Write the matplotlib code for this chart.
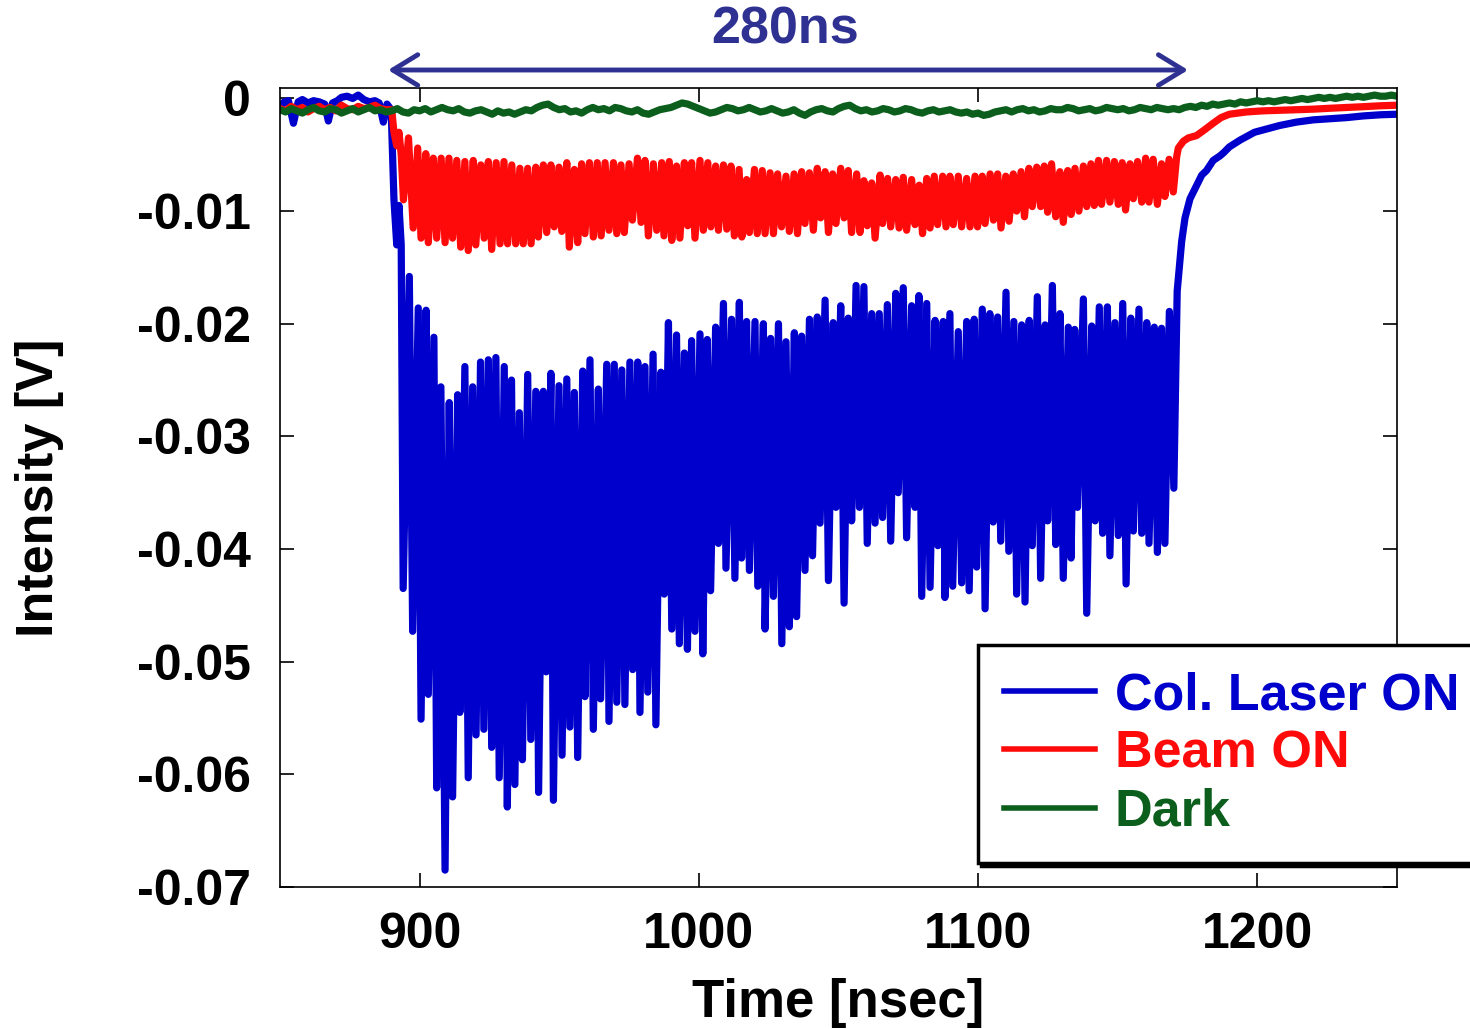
import numpy as np
import matplotlib
matplotlib.use("Agg")
from matplotlib import pyplot as plt

# time [ns] and intensity [mV]
blue_t = [850, 851.5, 853, 854.8, 856.5, 858, 860, 862, 864, 866, 867.3, 868.8, 870.5, 872, 874, 876, 878,
          880, 882, 884, 885.5, 887, 888.3, 889.8, 890.8, 891.8, 892.6, 893.4,
          894.1, 896.3, 897.5, 899.5, 900.5, 902.3, 903.1, 905.1, 906.1, 907.6, 909.1, 910.6, 911.8, 913.6,
          914.4, 916.2, 917.4, 919.0, 920.2, 921.8, 923.0, 924.6, 925.8, 927.3, 928.5, 930.3, 931.4, 932.9,
          934.1, 935.7, 936.8, 938.7, 939.8, 941.6, 942.6, 944.3, 945.3, 947.0, 947.9, 949.9, 951.0, 952.7,
          953.8, 955.4, 956.6, 958.4, 959.2, 961.0, 962.2, 964.0, 964.8, 967.0, 967.8, 969.7, 970.6, 972.4,
          973.5, 975.3, 976.3, 978.1, 978.9, 980.7, 981.7, 983.6, 984.6, 986.4, 987.6, 989.1, 990.3, 992.0,
          993.0, 994.8, 995.9, 997.4, 998.6, 1000.4, 1001.4, 1003.0, 1004.2, 1006.0, 1007.0, 1008.8, 1009.7,
          1011.7, 1012.9, 1014.5, 1015.3, 1017.1, 1018.1, 1020.1, 1021.1, 1023.1, 1023.7, 1025.7, 1026.7,
          1028.5, 1029.7, 1031.2, 1032.4, 1034.2, 1035.0, 1036.8, 1038.0, 1039.6, 1040.7, 1042.4, 1043.4,
          1045.2, 1046.4, 1048.1, 1049.1, 1050.8, 1052.0, 1053.5, 1054.7, 1056.3, 1057.5, 1059.1, 1060.3,
          1061.9, 1063.1, 1064.6, 1065.8, 1067.5, 1068.7, 1070.5, 1071.4, 1073.2, 1074.4, 1076.2, 1077.4,
          1078.8, 1079.8, 1081.6, 1082.8, 1084.6, 1085.6, 1087.5, 1088.1, 1089.9, 1090.9, 1092.9, 1094.1,
          1095.9, 1096.8, 1098.6, 1099.5, 1101.5, 1102.5, 1104.2, 1105.4, 1107.0, 1108.1, 1110.0, 1111.0,
          1112.8, 1113.8, 1115.6, 1116.8, 1118.3, 1119.4, 1121.2, 1122.4, 1124.0, 1124.9, 1126.6, 1127.8,
          1129.3, 1130.5, 1132.3, 1133.3, 1134.6, 1135.6, 1137.7, 1138.9, 1140.7, 1141.9, 1143.4, 1144.6,
          1146.3, 1147.2, 1149.0, 1150.2, 1151.8, 1153.0, 1154.7, 1155.6, 1157.6, 1158.6, 1160.4, 1161.2,
          1163.1, 1164.2, 1165.7, 1166.9, 1168.5, 1170.1, 1171.3, 1172.9, 1174.1, 1175.9, 1177.7, 1180.1,
          1181.8, 1184.2, 1186.6, 1188, 1190, 1193.8, 1196, 1199, 1202, 1205, 1208, 1214, 1220, 1226, 1232,
          1238, 1244, 1250]
blue_mv = [-0.8, -0.3, -0.2, -2.2, -0.3, -0.1, -0.4, -0.2, -0.3, -0.5, -2.0, -0.4, -0.2, 0.1, 0.2, 0.0, 0.3,
           -0.1, -0.3, -0.2, -0.4, -2.1, -0.5, -1.0, -9.0, -13.0, -9.5, -13.0,
           -43.5, -15.8, -47.3, -18.6, -55.1, -18.8, -52.9, -21.2, -61.2, -25.6, -68.5, -27.0, -62.0, -26.3,
           -54.5, -23.8, -60.3, -25.6, -56.5, -23.4, -56.0, -23.2, -57.6, -23.0, -60.3, -23.8, -62.9, -25.0,
           -60.9, -27.9, -58.7, -24.5, -56.9, -26.0, -61.6, -26.0, -50.9, -24.4, -62.3, -25.5, -58.3, -24.9,
           -55.8, -26.1, -58.5, -24.2, -53.1, -23.2, -56.0, -25.8, -53.3, -23.6, -55.3, -23.6, -53.6, -24.1,
           -53.8, -23.4, -50.7, -23.4, -54.5, -23.8, -52.7, -22.7, -55.6, -24.3, -44.0, -19.9, -47.1, -21.0,
           -48.4, -22.6, -48.9, -21.5, -47.3, -20.9, -49.3, -21.4, -43.7, -20.3, -39.5, -18.2, -41.7,
           -19.6, -42.6, -18.1, -40.8, -19.8, -41.9, -19.8, -43.3, -20.0, -47.1, -21.3, -44.2,
           -20.0, -48.4, -21.6, -46.9, -20.8, -46.0, -21.1, -41.9, -19.6, -40.6, -19.4, -37.7,
           -17.9, -42.8, -19.9, -36.3, -18.4, -44.8, -19.5, -37.5, -16.6, -36.3, -16.7, -39.5,
           -19.1, -37.7, -19.1, -37.2, -18.3, -39.3, -17.3, -35.0, -16.8, -39.0, -18.4, -36.3,
           -17.5, -44.2, -18.2, -43.4, -19.7, -39.7, -19.8, -44.3, -19.1, -43.3, -20.7, -43.0,
           -19.8, -43.7, -19.6, -41.6, -18.7, -45.3, -19.1, -37.6, -19.4, -39.3, -17.2, -40.2,
           -19.8, -44.0, -20.1, -44.7, -19.7, -39.7, -17.6, -42.6, -20.1, -37.5, -16.6, -39.6,
           -19.1, -42.6, -20.3, -40.8, -20.5, -36.3, -17.8, -45.7, -20.2, -37.5, -18.5, -38.6,
           -18.5, -40.6, -19.9, -38.8, -18.2, -43.1, -19.5, -38.4, -18.7, -38.6, -19.9, -39.5,
           -20.3, -40.3, -20.4, -39.5, -18.9, -34.6, -17.1, -12.7, -10.6, -8.9, -8.0, -6.8,
           -6.4, -5.5, -5.1, -4.8, -4.3, -3.7, -3.4, -3.0, -2.8, -2.6, -2.4, -2.1, -1.9, -1.8, -1.7,
           -1.55, -1.45, -1.4]

red_t = [850, 852, 854, 856, 858, 860, 862, 864, 866, 868, 870, 872, 874, 876, 878, 880, 882, 884, 886, 888,
         890.0, 890.8, 891.8, 892.6, 893.4, 894.2, 896.0, 897.7, 899.3, 900.5, 902.2, 903.1, 904.9, 906.1,
         907.7, 909.1, 910.5, 911.8, 913.3, 914.7, 916.2, 917.4, 919.2, 920.1, 921.9, 923.1, 924.6, 925.8,
         927.4, 928.8, 930.2, 931.5, 933.0, 934.4, 935.9, 937.1, 938.7, 939.9, 941.6, 942.5, 944.3, 945.5,
         947.0, 948.2, 949.9, 950.9, 952.7, 953.6, 955.4, 956.6, 958.0, 959.2, 960.8, 962.2, 963.6, 965.0,
         966.4, 967.8, 969.4, 970.6, 972.1, 973.3, 975.0, 976.2, 978.0, 979.3, 980.7, 981.9, 983.7, 984.9,
         986.7, 987.5, 989.4, 990.3, 992.0, 993.2, 994.8, 996.0, 997.4, 998.6, 1000.4, 1001.6, 1003.2,
         1004.3, 1006.0, 1007.0, 1008.8, 1010.0, 1011.5, 1012.7, 1014.4, 1015.4, 1017.1, 1018.1, 1019.9,
         1020.9, 1022.7, 1023.7, 1025.5, 1026.7, 1028.2, 1029.6, 1031.2, 1032.4, 1034.1, 1035.3, 1036.8,
         1038.0, 1039.6, 1041.0, 1042.4, 1043.6, 1045.2, 1046.4, 1047.9, 1049.1, 1050.8, 1052.0, 1053.5,
         1054.7, 1056.5, 1057.7, 1059.1, 1060.3, 1061.9, 1063.1, 1064.9, 1065.8, 1067.6, 1068.7, 1070.5,
         1071.7, 1073.2, 1074.4, 1076.2, 1077.4, 1078.9, 1080.1, 1081.6, 1082.8, 1084.3, 1085.5, 1087.3,
         1088.5, 1089.9, 1091.1, 1092.9, 1094.1, 1095.9, 1097.1, 1098.9, 1099.8, 1101.5, 1102.5, 1104.3,
         1105.5, 1107.0, 1108.2, 1109.9, 1111.1, 1112.6, 1113.8, 1115.4, 1116.6, 1118.2, 1119.4, 1121.0,
         1122.4, 1123.7, 1124.9, 1126.3, 1127.8, 1129.3, 1130.5, 1132.1, 1133.3, 1134.7, 1136.1, 1137.7,
         1138.9, 1140.4, 1141.6, 1143.1, 1144.2, 1146.0, 1147.2, 1148.8, 1150.2, 1151.6, 1152.8, 1154.4,
         1155.6, 1157.1, 1158.6, 1160.0, 1161.2, 1162.7, 1164.2, 1165.7, 1166.9, 1168.4, 1169.9, 1171.1,
         1171.7, 1173.5, 1175.3, 1178.2, 1181, 1184.2, 1187, 1190, 1196, 1202, 1208, 1214, 1220, 1226,
         1232, 1238, 1244, 1250]
red_mv = [-0.9, -1.1, -0.7, -1.0, -0.8, -1.2, -0.9, -0.7, -1.0, -0.8, -1.1, -0.6, -0.9, -1.0, -0.7, -0.9,
          -0.8, -0.6, -0.9, -1.0,
          -1.0, -3.0, -4.2, -3.0, -5.0, -9.0, -3.5, -11.5, -4.4, -12.4, -4.9, -12.8, -5.3, -12.4,
          -5.3, -12.8, -5.3, -12.4, -5.5, -13.2, -5.6, -13.5, -5.5, -13.0, -5.9, -12.4, -5.6, -13.4,
          -5.7, -12.9, -5.6, -12.9, -5.9, -12.9, -6.2, -12.9, -6.2, -12.9, -6.1, -12.3, -5.9, -11.9,
          -5.9, -11.4, -6.1, -11.8, -5.7, -13.2, -6.3, -12.8, -5.8, -12.0, -5.7, -12.3, -5.7, -12.2,
          -5.7, -11.7, -5.7, -12.0, -5.9, -11.9, -5.8, -10.8, -5.3, -11.0, -5.5, -12.2, -5.8, -11.7,
          -5.7, -12.2, -5.6, -12.6, -6.0, -12.4, -5.7, -11.3, -5.7, -12.4, -5.5, -11.7, -5.7,
          -11.4, -6.0, -11.7, -5.9, -11.6, -6.0, -12.2, -6.3, -12.3, -7.2, -11.9, -6.3,
          -12.0, -6.4, -12.0, -6.6, -12.0, -6.7, -11.4, -6.9, -11.8, -6.7, -12.0, -6.5,
          -11.1, -6.6, -11.7, -6.2, -10.6, -6.5, -11.9, -6.7, -11.1, -6.2, -10.6, -6.4,
          -11.9, -6.7, -11.9, -7.3, -11.3, -7.5, -12.4, -6.8, -11.1, -7.1, -11.4, -7.2,
          -11.5, -7.0, -11.7, -7.2, -11.2, -7.7, -12.0, -7.1, -11.5, -6.9, -11.2, -6.9,
          -11.4, -6.9, -11.2, -6.9, -11.4, -7.1, -11.4, -6.9, -11.4, -6.9, -11.1, -6.7,
          -10.8, -6.7, -11.5, -6.9, -10.9, -6.7, -10.0, -6.5, -10.5, -6.2, -9.6, -6.1,
          -9.6, -6.0, -10.1, -5.8, -10.5, -6.5, -11.0, -6.4, -10.3, -6.2, -10.0, -6.0,
          -9.6, -5.8, -9.5, -5.5, -9.4, -5.5, -9.2, -5.6, -9.4, -5.7, -9.9, -5.8,
          -8.9, -5.6, -9.2, -5.3, -9.2, -5.4, -9.4, -5.8, -8.7, -5.4, -8.3, -5.2,
          -4.4, -3.8, -3.5, -3.3, -2.8, -2.2, -1.7, -1.4, -1.2, -1.1, -1.05, -1.0, -0.95, -0.87,
          -0.8, -0.73, -0.65, -0.6]

# dark trace, one reading every 2 ns from 850 to 1250
green_t = np.arange(850, 1251, 2)
green_mv = [-1.0, -1.2, -0.9, -1.1, -1.3, -1.0, -0.8, -1.1, -1.2, -0.9,
            -1.0, -1.3, -1.1, -0.9, -1.2, -1.0, -0.8, -1.1, -1.0, -1.2,
            -1.1, -0.9, -1.2, -1.3, -1.0, -1.1, -0.9, -1.2, -1.0, -0.8,
            -1.0, -1.1, -0.9, -1.2, -1.3, -1.1, -1.0, -1.2, -1.4, -1.1,
            -1.3, -1.2, -1.4, -1.2, -1.0, -1.1, -0.8, -0.6, -0.5, -0.8,
            -1.0, -0.9, -1.2, -1.1, -1.3, -1.0, -0.8, -1.0, -0.9, -1.1,
            -0.8, -0.9, -1.1, -1.2, -1.0, -1.3, -1.4, -1.2, -1.0, -0.9,
            -0.8, -0.6, -0.4, -0.5, -0.7, -0.9, -1.1, -1.3, -1.2, -1.0,
            -0.8, -0.9, -1.1, -1.0, -0.8, -1.0, -1.2, -1.1, -0.9, -1.1,
            -1.3, -1.2, -1.0, -1.3, -1.5, -1.2, -1.0, -0.9, -1.1, -1.2,
            -0.9, -0.7, -0.6, -0.9, -1.1, -1.0, -1.2, -1.1, -0.9, -1.0,
            -1.2, -1.1, -0.9, -1.0, -1.2, -1.3, -1.1, -1.0, -1.2, -1.1,
            -1.0, -1.2, -1.3, -1.2, -1.4, -1.3, -1.5, -1.4, -1.2, -1.1,
            -1.0, -1.2, -1.0, -0.9, -1.1, -1.0, -1.2, -1.1, -0.9, -1.0,
            -1.0, -0.8, -0.9, -1.1, -1.0, -0.9, -1.1, -1.0, -0.8, -0.9,
            -1.0, -0.9, -1.1, -1.0, -0.8, -0.9, -1.0, -0.8, -0.9, -1.0,
            -0.9, -1.0, -0.8, -0.7, -0.8, -0.6, -0.7, -0.5, -0.6, -0.5,
            -0.4, -0.5, -0.3, -0.4, -0.3, -0.2, -0.3, -0.2, -0.3, -0.2,
            -0.1, -0.2, -0.1, 0.0, -0.1, 0.0, 0.1, 0.0, 0.1, 0.0,
            0.1, 0.2, 0.1, 0.2, 0.1, 0.2, 0.3, 0.2, 0.2, 0.3,
            0.2]

labels = ['Col. Laser ON', 'Beam ON', 'Dark']
colors = ['#0000cc', '#ff0a0a', '#0b5e1c']
xticks = [900, 1000, 1100, 1200]
yticks = [0, -0.01, -0.02, -0.03, -0.04, -0.05, -0.06, -0.07]
ytick_labels = ['0', '-0.01', '-0.02', '-0.03', '-0.04', '-0.05', '-0.06', '-0.07']
window = [888.7, 1175.2]   # ends of the 280ns arrow
navy = '#2e3192'

plt.rcParams['font.family'] = ['Liberation Sans', 'DejaVu Sans']
plt.rcParams['font.weight'] = 'bold'
plt.rcParams['axes.labelweight'] = 'bold'
plt.rcParams['axes.unicode_minus'] = False

fig = plt.figure(figsize=(14.7, 10.29), dpi=100)
ax = fig.add_axes([0.1905, 0.138, 0.7598, 0.7765])

ax.plot(blue_t, np.array(blue_mv) / 1000, color=colors[0], lw=5.2, label=labels[0])
ax.plot(red_t, np.array(red_mv) / 1000, color=colors[1], lw=5.2, label=labels[1])
ax.plot(green_t, np.array(green_mv) / 1000, color=colors[2], lw=5.2, label=labels[2])

ax.set_xlim(850, 1250)
ax.set_ylim(-0.07, 0.00093)
ax.set_xticks(xticks)
ax.set_yticks(yticks)
ax.set_yticklabels(ytick_labels)
ax.tick_params(direction='in', length=10, width=1.2, top=True, right=True, labelsize=36)
ax.tick_params(axis='y', pad=21)
ax.tick_params(axis='x', pad=18)
for s in ax.spines.values():
    s.set_linewidth(1.2)

ax.set_xlabel('Time [nsec]', fontsize=38, fontweight='bold')
ax.set_ylabel('Intensity [V]', fontsize=37.5, fontweight='bold')
ax.xaxis.set_label_coords(0.5, -0.114)
ax.yaxis.set_label_coords(-0.193, 0.5)

ax.annotate('', xy=(window[1], 1.0225), xytext=(window[0], 1.0225),
            xycoords=('data', 'axes fraction'), textcoords=('data', 'axes fraction'),
            arrowprops=dict(arrowstyle='<->,head_length=0.9,head_width=0.55', lw=3.5, color=navy,
                            shrinkA=0, shrinkB=0, mutation_scale=20),
            annotation_clip=False)
fig.text(0.534, 1 - 30 / 1029, '280ns', ha='center', va='center', fontsize=37.5, color=navy)

leg = ax.legend(loc='upper left', bbox_to_anchor=(978 / 1470, 1 - 645 / 1029),
                bbox_transform=fig.transFigure, borderaxespad=0, prop={'size': 37.5, 'weight': 'bold'},
                handlelength=1.75, handletextpad=0.38, labelspacing=0.18, borderpad=0.5,
                fancybox=False, shadow={'color': 'k', 'alpha': 1}, framealpha=1, edgecolor='k',
                labelcolor='linecolor')
leg.get_frame().set_linewidth(2.5)
for h in leg.get_lines():
    h.set_linewidth(4)

fig.savefig('out.png', dpi=100)
